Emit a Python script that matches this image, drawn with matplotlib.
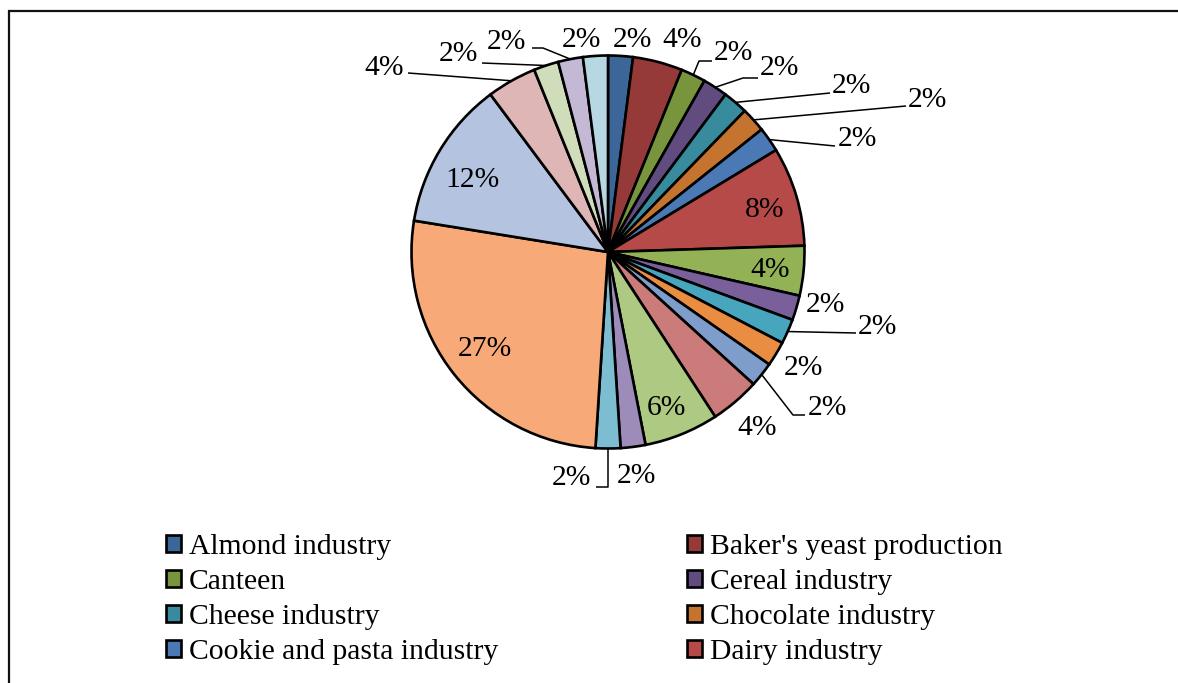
import matplotlib
matplotlib.use("Agg")
import matplotlib.pyplot as plt
import numpy as np

plt.rcParams["font.family"] = ["Liberation Serif", "DejaVu Serif"]

# Number of companies per sector (clockwise from 12 o'clock)
counts = [1, 2, 1, 1, 1, 1, 1, 4, 2, 1, 1, 1, 1, 2, 3, 1, 1, 13, 6, 2, 1, 1, 1]

# Sectors listed in the legend
legend_names = [
    "Almond industry", "Baker's yeast production", "Canteen", "Cereal industry",
    "Cheese industry", "Chocolate industry", "Cookie and pasta industry", "Dairy industry",
]

colors = [
    "#3C6598", "#953A38", "#78953E", "#604C7E", "#388A9D", "#C5742F",
    "#4A79B5", "#B54A48", "#93B256", "#79609B", "#47A5BD", "#E98D42",
    "#7F9DCA", "#CB7B79", "#AEC981", "#9D8BB9", "#7DBDD2", "#F7AA78",
    "#B4C3DF", "#DEB6B6", "#CFDDBB", "#C3B9D4", "#B7D8E3",
]

W, H = 1178, 683


def P(px, py):
    """Convert image pixel position (origin top-left) to axes data units."""
    return px, H - py


# Label placement: (text centre, leader waypoints after the arc point)
label_layout = [
    ((632, 40), None),
    ((682, 40), None),
    ((733, 53), [(699, 61), (712, 61)]),
    ((779, 68), [(743, 78), (758, 78)]),
    ((851, 86), [(830, 93)]),
    ((927, 100), [(906, 106)]),
    ((857, 139), [(835, 146)]),
    ((765, 210), None),
    ((770, 270), None),
    ((825, 305), None),
    ((877, 327), [(856, 333)]),
    ((803, 368), None),
    ((827, 408), [(793, 415), (805, 415)]),
    ((757, 428), None),
    ((666, 408), None),
    ((636, 476), None),
    ((571, 478), [(608, 487), (596, 487)]),
    ((485, 349), None),
    ((473, 180), None),
    ((384, 68), [(408, 73)]),
    ((458, 54), [(482, 63)]),
    ((506, 42), [(543, 48), (532, 48)]),
    ((581, 40), None),
]

fig = plt.figure(figsize=(W / 100, H / 100), dpi=100)
ax = fig.add_axes([0, 0, 1, 1])

cx, cy = P(608, 252)
radius = 196.5
wedges, _ = ax.pie(
    counts, colors=colors, startangle=90, counterclock=False,
    center=(cx, cy), radius=radius,
    wedgeprops=dict(edgecolor="black", linewidth=1.9),
)

total = sum(counts)
fs = 21.3
for w, n, (tpos, leader) in zip(wedges, counts, label_layout):
    pct = f"{100 * n / total:.0f}%"
    tx, ty = P(*tpos)
    ax.text(tx, ty, pct, ha="center", va="center", fontsize=fs, color="black")
    if leader:
        mid = np.deg2rad((w.theta1 + w.theta2) / 2)
        xs = [cx + radius * np.cos(mid)] + [P(*p)[0] for p in leader]
        ys = [cy + radius * np.sin(mid)] + [P(*p)[1] for p in leader]
        ax.plot(xs, ys, color="black", lw=1.1, solid_capstyle="butt")

ax.set_xlim(0, W)
ax.set_ylim(0, H)
ax.set_aspect("equal")
ax.axis("off")

# Legend: two columns, drawn row by row
legend_kw = dict(
    loc="upper left", frameon=False, fontsize=fs, borderpad=0, borderaxespad=0,
    handlelength=0.51, handleheight=0.51, handletextpad=0.27, labelspacing=0.30,
    bbox_transform=ax.transData,
)
left_idx = [0, 2, 4, 6]
right_idx = [1, 3, 5, 7]
leg1 = ax.legend([wedges[i] for i in left_idx], [legend_names[i] for i in left_idx],
                 bbox_to_anchor=P(166, 534), **legend_kw)
ax.add_artist(leg1)
ax.legend([wedges[i] for i in right_idx], [legend_names[i] for i in right_idx],
          bbox_to_anchor=P(687, 534), **legend_kw)

# Chart frame (top and left edges)
ax.plot([8.5, 8.5, W], [0, H - 10.5, H - 10.5], color="#111111", lw=1.6,
        solid_joinstyle="miter", clip_on=False)

fig.savefig("out.png", dpi=100, facecolor="white")
